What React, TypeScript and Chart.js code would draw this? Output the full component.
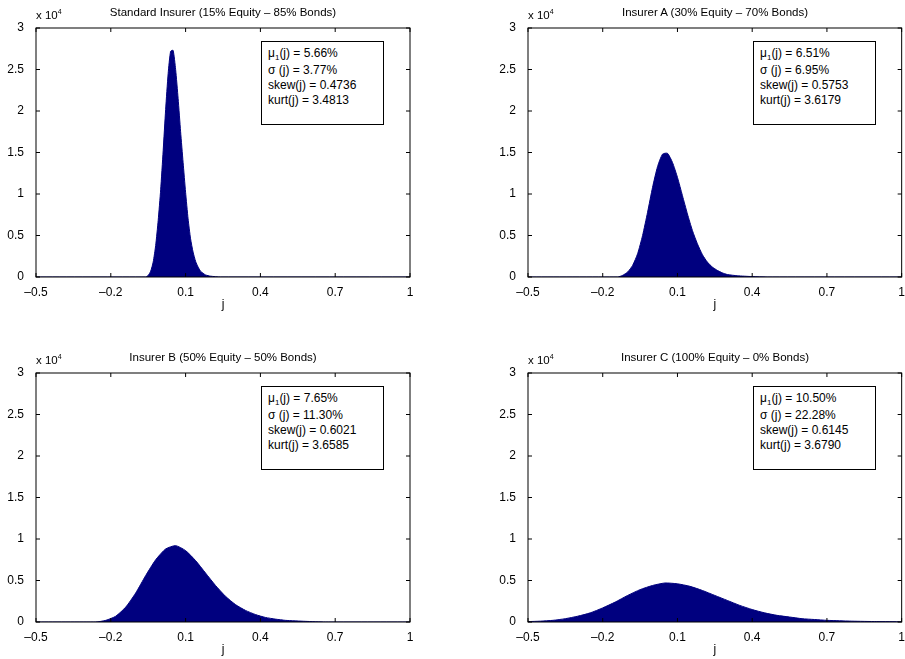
import React, { useEffect, useRef } from "react";
import { Chart, registerables } from "chart.js";
import type { Plugin } from "chart.js";

Chart.register(...registerables);

// histogram heights in units of 10^4
const stdX = [-0.5, -0.06, -0.05, -0.04, -0.03, -0.02, -0.01, 0, 0.01, 0.02, 0.03, 0.04, 0.05, 0.06, 0.07, 0.08, 0.09, 0.1, 0.11, 0.12, 0.13, 0.14, 0.15, 0.16, 0.17, 0.18, 0.2, 0.24, 1];
const stdY = [0, 0, 0.02, 0.07, 0.18, 0.38, 0.68, 1.05, 1.52, 2.02, 2.45, 2.72, 2.73, 2.5, 2.15, 1.75, 1.38, 1.02, 0.7, 0.46, 0.3, 0.19, 0.12, 0.07, 0.045, 0.025, 0.01, 0, 0];

const aX = [-0.5, -0.14, -0.12, -0.1, -0.08, -0.06, -0.04, -0.02, 0, 0.02, 0.04, 0.06, 0.08, 0.1, 0.12, 0.14, 0.16, 0.18, 0.2, 0.22, 0.24, 0.26, 0.28, 0.3, 0.34, 0.4, 0.46, 1];
const aY = [0, 0, 0.02, 0.06, 0.14, 0.28, 0.5, 0.78, 1.08, 1.33, 1.48, 1.49, 1.38, 1.2, 0.98, 0.76, 0.56, 0.4, 0.27, 0.18, 0.12, 0.08, 0.05, 0.03, 0.015, 0.005, 0, 0];

const bX = [-0.5, -0.26, -0.22, -0.18, -0.14, -0.1, -0.06, -0.02, 0.02, 0.06, 0.1, 0.14, 0.18, 0.22, 0.26, 0.3, 0.34, 0.38, 0.42, 0.46, 0.5, 0.58, 0.66, 1];
const bY = [0, 0, 0.02, 0.07, 0.18, 0.35, 0.56, 0.75, 0.88, 0.92, 0.86, 0.74, 0.59, 0.44, 0.31, 0.21, 0.14, 0.09, 0.055, 0.035, 0.02, 0.008, 0, 0];

const cX = [-0.5, -0.45, -0.4, -0.35, -0.3, -0.25, -0.2, -0.15, -0.1, -0.05, 0, 0.05, 0.1, 0.15, 0.2, 0.25, 0.3, 0.35, 0.4, 0.45, 0.5, 0.55, 0.6, 0.65, 0.7, 0.75, 0.8, 0.9, 1];
const cY = [0.005, 0.01, 0.02, 0.04, 0.07, 0.11, 0.17, 0.24, 0.32, 0.39, 0.44, 0.47, 0.46, 0.43, 0.38, 0.32, 0.26, 0.2, 0.15, 0.11, 0.08, 0.06, 0.04, 0.03, 0.02, 0.015, 0.01, 0.005, 0.003];

const titles = [
  "Standard Insurer (15% Equity \u2013 85% Bonds)",
  "Insurer A (30% Equity \u2013 70% Bonds)",
  "Insurer B (50% Equity \u2013 50% Bonds)",
  "Insurer C (100% Equity \u2013 0% Bonds)",
];
const means = ["5.66%", "6.51%", "7.65%", "10.50%"];
const sigmas = ["3.77%", "6.95%", "11.30%", "22.28%"];
const skews = ["0.4736", "0.5753", "0.6021", "0.6145"];
const kurts = ["3.4813", "3.6179", "3.6585", "3.6790"];
const xTicks = [-0.5, -0.2, 0.1, 0.4, 0.7, 1];

const FONT = "'Liberation Sans', Arial, sans-serif";
const NAVY = "#00007f";

const frame: Plugin = {
  id: "frame",
  afterDraw(chart) {
    const { ctx, chartArea: a, scales } = chart;
    ctx.save();
    ctx.strokeStyle = "#000";
    ctx.lineWidth = 1;
    ctx.strokeRect(a.left, a.top, a.right - a.left, a.bottom - a.top);
    ctx.beginPath();
    xTicks.forEach((t) => {
      const px = scales.x.getPixelForValue(t);
      ctx.moveTo(px, a.bottom);
      ctx.lineTo(px, a.bottom - 4);
      ctx.moveTo(px, a.top);
      ctx.lineTo(px, a.top + 4);
    });
    for (let v = 0; v <= 3; v += 0.5) {
      const py = scales.y.getPixelForValue(v);
      ctx.moveTo(a.left, py);
      ctx.lineTo(a.left + 4, py);
      ctx.moveTo(a.right, py);
      ctx.lineTo(a.right - 4, py);
    }
    ctx.stroke();
    ctx.restore();
  },
};

const Panel: React.FC<{ idx: number; xs: number[]; ys: number[]; left: number; top: number; width: number; padRight: number }> = ({ idx, xs, ys, left, top, width, padRight }) => {
  const ref = useRef<HTMLCanvasElement | null>(null);
  useEffect(() => {
    if (!ref.current) return;
    const chart = new Chart(ref.current, {
      type: "line",
      data: {
        datasets: [
          {
            data: xs.map((x, i) => ({ x, y: ys[i] })),
            borderColor: NAVY,
            backgroundColor: NAVY,
            borderWidth: 1,
            pointRadius: 0,
            fill: "origin",
            tension: 0.2,
          },
        ],
      },
      options: {
        animation: false,
        responsive: false,
        layout: { padding: { top: 28, right: padRight, left: 0, bottom: 0 } },
        plugins: { legend: { display: false }, tooltip: { enabled: false } },
        scales: {
          x: {
            type: "linear",
            min: -0.5,
            max: 1,
            afterBuildTicks: (s) => {
              s.ticks = xTicks.map((v) => ({ value: v }));
            },
            afterFit: (s) => {
              s.height = 35;
            },
            grid: { display: false },
            border: { display: false },
            ticks: {
              color: "#000",
              font: { family: FONT, size: 12 },
              padding: 0,
              maxRotation: 0,
              callback: (v) => {
                const n = Number(v);
                return (n < 0 ? "\u2013" : "") + String(Math.abs(Math.round(n * 10) / 10));
              },
            },
            title: { display: true, text: "j", color: "#000", font: { family: FONT, size: 12 }, padding: 0 },
          },
          y: {
            min: 0,
            max: 3,
            afterFit: (s) => {
              s.width = 36;
            },
            grid: { display: false },
            border: { display: false },
            ticks: {
              stepSize: 0.5,
              color: "#000",
              font: { family: FONT, size: 12 },
              padding: 4,
              callback: (v) => String(Math.round(Number(v) * 10) / 10),
            },
          },
        },
      },
      plugins: [frame],
    });
    return () => chart.destroy();
  }, [xs, ys, padRight]);

  const plotLeft = left + 36;
  const plotTop = top + 28;
  const txt: React.CSSProperties = { position: "absolute", fontFamily: FONT, fontSize: 11.5, color: "#000", whiteSpace: "nowrap" };
  return (
    <>
      <canvas ref={ref} width={width} height={312} style={{ position: "absolute", left, top }} />
      <div style={{ ...txt, left: plotLeft, top: plotTop - 20 }}>
        x 10<sup style={{ fontSize: 7 }}>4</sup>
      </div>
      <div style={{ ...txt, left: plotLeft, width: 374, textAlign: "center", top: plotTop - 22 }}>{titles[idx]}</div>
      <div
        style={{
          ...txt,
          fontSize: 12,
          left: plotLeft + 225,
          top: plotTop + 13,
          width: 115,
          height: 78,
          border: "1px solid #000",
          padding: "4px 0 0 6px",
          lineHeight: "15px",
          background: "#fff",
        }}
      >
        <div style={{ marginBottom: 2 }}>
          μ<sub style={{ fontSize: 8, lineHeight: 0 }}>1</sub>(j) = {means[idx]}
        </div>
        <div>σ (j) = {sigmas[idx]}</div>
        <div>skew(j) = {skews[idx]}</div>
        <div>kurt(j) = {kurts[idx]}</div>
      </div>
    </>
  );
};

export default function App() {
  return (
    <div style={{ position: "absolute", left: 0, top: 0, width: 905, height: 659, overflow: "hidden", background: "#fff" }}>
      <Panel idx={0} xs={stdX} ys={stdY} left={0} top={0} width={452} padRight={42} />
      <Panel idx={1} xs={aX} ys={aY} left={492} top={0} width={413} padRight={3} />
      <Panel idx={2} xs={bX} ys={bY} left={0} top={345} width={452} padRight={42} />
      <Panel idx={3} xs={cX} ys={cY} left={492} top={345} width={413} padRight={3} />
    </div>
  );
}
